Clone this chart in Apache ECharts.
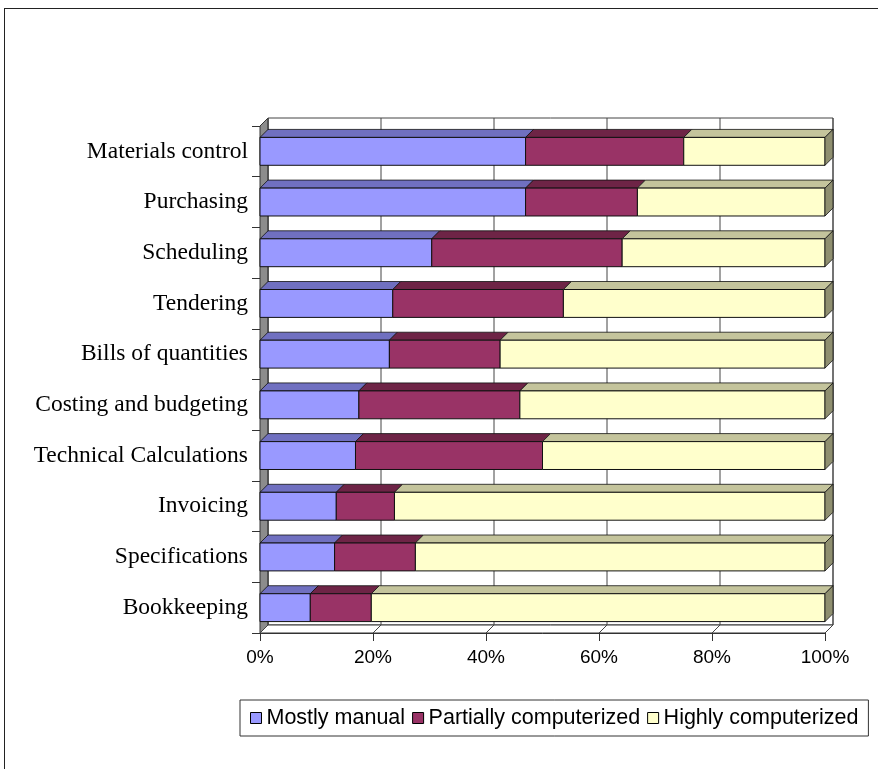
<!DOCTYPE html>
<html>
<head>
<meta charset="utf-8">
<script src="https://cdn.jsdelivr.net/npm/echarts@6/dist/echarts.min.js"></script>
<style>
  html, body { margin: 0; padding: 0; background: #fff; }
  #frame { position: absolute; left: 4px; top: 8px; width: 900px; height: 800px; border: 1.5px solid #222; }
  #chart { position: absolute; left: 0; top: 0; width: 878px; height: 769px; }
</style>
</head>
<body>
<div id="frame"></div>
<div id="chart"></div>
<script>
  // data (percent of respondents)
  const categories = ['Materials control', 'Purchasing', 'Scheduling', 'Tendering', 'Bills of quantities',
    'Costing and budgeting', 'Technical Calculations', 'Invoicing', 'Specifications', 'Bookkeeping'];
  const mostlyManual = [47, 47, 30.4, 23.5, 22.9, 17.5, 16.9, 13.5, 13.2, 8.9];
  const partiallyComputerized = [28, 19.8, 33.7, 30.2, 19.6, 28.5, 33.1, 10.3, 14.3, 10.8];
  const highlyComputerized = [25, 33.2, 35.9, 46.3, 57.5, 54, 50, 76.2, 72.5, 80.3];
  const tickValues = [0, 20, 40, 60, 80, 100];
  const seriesNames = ['Mostly manual', 'Partially computerized', 'Highly computerized'];

  const DEPTH = 8;
  const colors = ['#9999FF', '#993366', '#FFFFCC'];
  const topColors = ['#7070c0', '#6e2446', '#c4c49c'];
  const sideColor = '#8f8f70';

  // build [catIndex, start, end] segments for each series
  const allValues = [mostlyManual, partiallyComputerized, highlyComputerized];
  const segments = allValues.map(() => []);
  categories.forEach((c, i) => {
    let acc = 0;
    allValues.forEach((arr, s) => {
      segments[s].push([i, acc, acc + arr[i]]);
      acc += arr[i];
    });
  });

  function barRenderer(sIdx) {
    return function (params, api) {
      const cat = api.value(0);
      const p0 = api.coord([api.value(1), cat]);
      const p1 = api.coord([api.value(2), cat]);
      const band = api.size([0, 1])[1];
      const h = band * 0.55;
      const y0 = p0[1] - h / 2;
      const d = DEPTH;
      const children = [
        {
          type: 'polygon',
          shape: { points: [[p0[0], y0], [p0[0] + d, y0 - d], [p1[0] + d, y0 - d], [p1[0], y0]] },
          style: { fill: topColors[sIdx], stroke: '#111', lineWidth: 0.8 }
        },
        {
          type: 'rect',
          shape: { x: p0[0], y: y0, width: p1[0] - p0[0], height: h },
          style: { fill: colors[sIdx], stroke: '#111', lineWidth: 1 }
        }
      ];
      if (sIdx === 2) {
        children.push({
          type: 'polygon',
          shape: { points: [[p1[0], y0], [p1[0] + d, y0 - d], [p1[0] + d, y0 - d + h], [p1[0], y0 + h]] },
          style: { fill: sideColor, stroke: '#111', lineWidth: 0.8 }
        });
      }
      return { type: 'group', children: children };
    };
  }

  // back wall, left wall and floor of the 3D box
  function frameRenderer(params, api) {
    const cs = params.coordSys;
    const x = cs.x, y = cs.y, w = cs.width, h = cs.height, d = DEPTH;
    const children = [
      { type: 'rect', shape: { x: x + d, y: y - d, width: w, height: h }, style: { fill: '#fff', stroke: '#444', lineWidth: 1 } },
      { type: 'polygon', shape: { points: [[x, y], [x + d, y - d], [x + d, y + h - d], [x, y + h]] }, style: { fill: '#8c8c8c', stroke: '#333', lineWidth: 1 } },
      { type: 'polygon', shape: { points: [[x, y + h], [x + d, y + h - d], [x + w + d, y + h - d], [x + w, y + h]] }, style: { fill: '#fff', stroke: '#333', lineWidth: 1 } }
    ];
    tickValues.forEach(v => {
      const px = api.coord([v, 0])[0];
      children.push({ type: 'line', shape: { x1: px + d, y1: y - d, x2: px + d, y2: y + h - d }, style: { stroke: '#444', lineWidth: 1 } });
      children.push({ type: 'line', shape: { x1: px, y1: y + h, x2: px + d, y2: y + h - d }, style: { stroke: '#444', lineWidth: 1 } });
    });
    return { type: 'group', children: children };
  }

  const chart = echarts.init(document.getElementById('chart'));
  const series = [{
    type: 'custom',
    name: 'frame',
    renderItem: frameRenderer,
    data: [[0, 0, 100]],
    encode: { x: [1, 2], y: 0 },
    silent: true,
    z: 1
  }];
  seriesNames.forEach((name, s) => {
    series.push({
      type: 'custom',
      name: name,
      renderItem: barRenderer(s),
      data: segments[s],
      encode: { x: [1, 2], y: 0 },
      itemStyle: { color: colors[s] },
      z: 2
    });
  });

  const option = {
    animation: false,
    backgroundColor: 'transparent',
    grid: { left: 260, right: 53, top: 126, bottom: 136 },
    xAxis: {
      type: 'value', min: 0, max: 100, interval: 20,
      axisLine: { show: true, lineStyle: { color: '#333' } },
      axisTick: { show: true, length: 8, lineStyle: { color: '#333' } },
      splitLine: { show: false },
      axisLabel: { formatter: '{value}%', color: '#000', fontFamily: 'Liberation Sans', fontSize: 19, margin: 15 }
    },
    yAxis: {
      type: 'category', data: categories, inverse: true,
      axisLine: { show: true, lineStyle: { color: '#333' } },
      axisTick: { show: true, length: 8, lineStyle: { color: '#333' } },
      splitLine: { show: false },
      axisLabel: { color: '#000', fontFamily: 'Liberation Serif', fontSize: 23.5, margin: 12 }
    },
    legend: {
      data: seriesNames,
      left: 240, top: 700,
      padding: [7, 10],
      borderColor: '#333', borderWidth: 1,
      itemGap: 7, itemWidth: 11, itemHeight: 11,
      icon: 'rect',
      itemStyle: { borderColor: '#000', borderWidth: 1 },
      textStyle: { color: '#000', fontFamily: 'Liberation Sans', fontSize: 21.5 }
    },
    series: series
  };
  chart.setOption(option);
</script>
</body>
</html>
